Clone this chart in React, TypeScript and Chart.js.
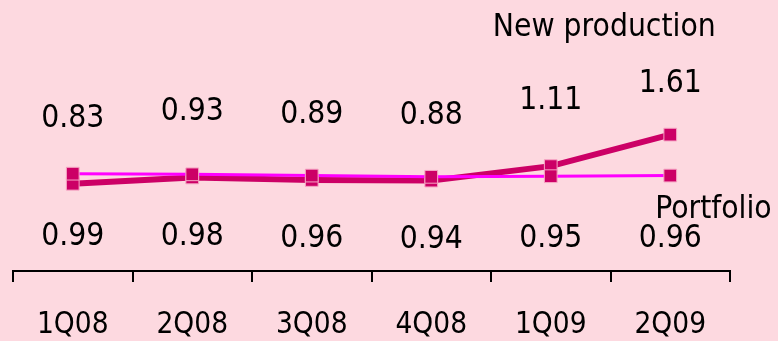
import React, { useEffect, useRef } from "react";
import { Chart, registerables } from "chart.js";

Chart.register(...registerables);

const categories = ["1Q08", "2Q08", "3Q08", "4Q08", "1Q09", "2Q09"];
const newProduction = [0.83, 0.93, 0.89, 0.88, 1.11, 1.61];
const portfolio = [0.99, 0.98, 0.96, 0.94, 0.95, 0.96];
const seriesNames = ["New production", "Portfolio"];

const BG = "#fdd9e0";
const DARK = "#cc0066";
const MAGENTA = "#ff00ff";
const FONT = "'DejaVu Sans Condensed', 'DejaVu Sans', sans-serif";

const labelPlugin = {
  id: "valueLabels",
  beforeDraw(chart: any) {
    const { ctx, width, height } = chart;
    ctx.save();
    ctx.fillStyle = BG;
    ctx.fillRect(0, 0, width, height);
    ctx.restore();
  },
  afterDatasetsDraw(chart: any) {
    const ctx = chart.ctx;
    const area = chart.chartArea;
    const metaPort = chart.getDatasetMeta(0);
    const metaNew = chart.getDatasetMeta(1);
    ctx.save();
    ctx.fillStyle = "#000";
    ctx.font = `31.5px ${FONT}`;
    ctx.textAlign = "center";
    ctx.textBaseline = "alphabetic";
    newProduction.forEach((v, i) => {
      const p = metaNew.data[i];
      const y = Math.max(p.y - 57, area.top + 92);
      ctx.fillText(v.toFixed(2), p.x, y);
    });
    portfolio.forEach((v, i) => {
      const p = metaPort.data[i];
      ctx.fillText(v.toFixed(2), p.x, p.y + 71);
    });
    const lastNew = metaNew.data[newProduction.length - 1];
    const lastPort = metaPort.data[portfolio.length - 1];
    ctx.fillText(seriesNames[0], lastNew.x - 66, area.top + 36);
    ctx.textAlign = "left";
    ctx.fillText(seriesNames[1], lastPort.x - 15, lastPort.y + 42);
    ctx.restore();
  },
};

export default function App() {
  const ref = useRef<HTMLCanvasElement>(null);
  useEffect(() => {
    if (!ref.current) return;
    const chart = new Chart(ref.current, {
      type: "line",
      data: {
        labels: categories,
        datasets: [
          {
            label: seriesNames[1],
            data: portfolio,
            borderColor: MAGENTA,
            borderWidth: 3,
            pointStyle: "rect",
            pointRadius: 9,
            pointBackgroundColor: DARK,
            pointBorderColor: "#f6a6c4",
            pointBorderWidth: 1,
            tension: 0,
          },
          {
            label: seriesNames[0],
            data: newProduction,
            borderColor: DARK,
            borderWidth: 6,
            pointStyle: "rect",
            pointRadius: 9,
            pointBackgroundColor: DARK,
            pointBorderColor: "#f6a6c4",
            pointBorderWidth: 1,
            tension: 0,
          },
        ],
      },
      options: {
        animation: false,
        responsive: false,
        devicePixelRatio: 1,
        layout: { autoPadding: false, padding: { left: 13, right: 48, top: 0, bottom: 0 } },
        plugins: { legend: { display: false }, tooltip: { enabled: false } },
        scales: {
          x: {
            type: "category",
            offset: true,
            border: { display: true, color: "#000", width: 2 },
            grid: {
              offset: true,
              drawOnChartArea: false,
              drawTicks: true,
              tickLength: 11,
              color: "#000",
              lineWidth: 2,
            },
            ticks: {
              color: "#000",
              font: { family: FONT, size: 29.5 },
              padding: 26,
              maxRotation: 0,
              autoSkip: false,
            },
            afterFit: (scale: any) => {
              scale.height = 70;
            },
          },
          y: {
            display: false,
            min: -0.555,
            max: 3.747,
          },
        },
      },
      plugins: [labelPlugin],
    });
    return () => chart.destroy();
  }, []);
  return (
    <div style={{ position: "fixed", left: 0, top: 0, width: 778, height: 341, background: BG }}>
      <canvas ref={ref} width={778} height={341} style={{ display: "block" }} />
    </div>
  );
}
